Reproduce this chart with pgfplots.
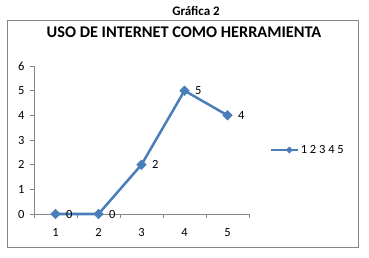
\documentclass[border=0pt]{standalone}
\usepackage{pgfplots}
\pgfplotsset{compat=1.18}
\usetikzlibrary{shapes.geometric}
\usepackage{fontspec}
\setmainfont{Carlito}
\definecolor{serieblue}{HTML}{4A7EBB}
\definecolor{axgray}{HTML}{868686}
\begin{document}
\begin{tikzpicture}
\path[use as bounding box, fill=white] (0,0) rectangle (369bp,258bp);
\draw[axgray, line width=0.8bp] (7.5bp,10.5bp) rectangle (358.5bp,238bp);
\node[font=\bfseries\fontsize{13bp}{15bp}\selectfont] at (196bp,247.5bp) {Gráfica 2};
\node[font=\bfseries\fontsize{16.3bp}{18bp}\selectfont] at (184bp,226bp) {USO DE INTERNET COMO HERRAMIENTA};
\begin{axis}[
  at={(34bp,44bp)}, anchor=south west,
  scale only axis, width=215bp, height=148bp,
  xmin=0.5, xmax=5.5, ymin=0, ymax=6,
  axis lines=left, axis line style={axgray, line width=0.8bp, -},
  xtick={1,2,3,4,5}, ytick={0,1,2,3,4,5,6},
  minor xtick={0.5,1.5,2.5,3.5,4.5,5.5},
  major x tick style={draw=none},
  minor tick length=4bp, major tick length=4bp,
  tick align=outside,
  every tick/.style={axgray, line width=0.8bp},
  ticklabel style={font=\fontsize{12.5bp}{14bp}\selectfont},
  /pgf/number format/assume math mode=true,
  xticklabel style={yshift=-7bp},
  yticklabel style={xshift=-2bp},
  legend style={at={(1.08,0.432)}, anchor=west, draw=none, fill=none,
    font=\fontsize{12.5bp}{14bp}\selectfont, legend cell align=left},
  legend image code/.code={
    \draw[serieblue, line width=2.5bp] (0cm,0cm) -- (0.95cm,0cm);
    \node[diamond, fill=serieblue, inner sep=0pt, minimum size=8bp] at (0.475cm,0cm) {};
  },
  clip=false,
]
\addplot[serieblue, line width=2.5bp, mark=square*, mark size=3.4bp,
  mark options={fill=serieblue, line width=0.5bp, rotate=45},
  nodes near coords, every node near coord/.style={anchor=west, xshift=7bp, black, font=\fontsize{12.5bp}{14bp}\selectfont},
  point meta=explicit symbolic]
  coordinates {(1,0) [0] (2,0) [0] (3,2) [2] (4,5) [5] (5,4) [4]};
\addlegendentry{1 2 3 4 5}
\end{axis}
\end{tikzpicture}
\end{document}
